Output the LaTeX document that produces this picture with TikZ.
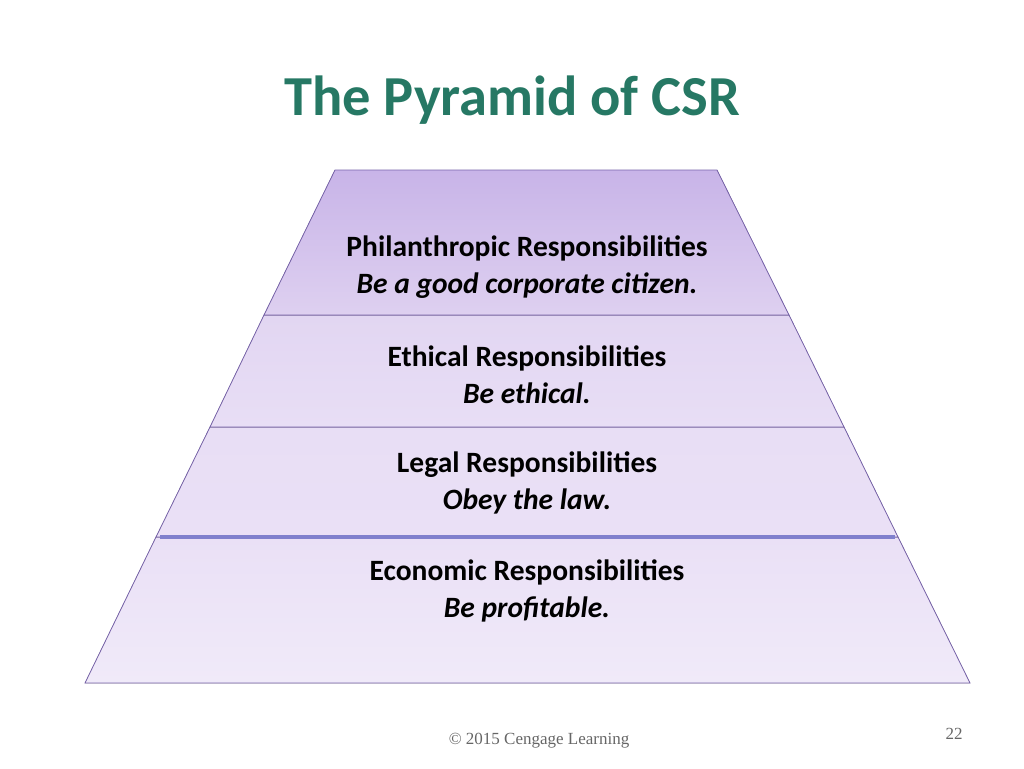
\documentclass[tikz,border=0pt]{standalone}
\usepackage{fontspec}
\setmainfont{Carlito}
\newfontfamily\serifcr{Liberation Serif}
\begin{document}
\definecolor{titlec}{RGB}{38,120,100}
\definecolor{edgec}{RGB}{120,100,170}
\definecolor{sepc}{RGB}{128,128,205}
\definecolor{c0}{RGB}{200,180,232}
\definecolor{c1}{RGB}{222,208,240}
\definecolor{c2}{RGB}{226,214,242}
\definecolor{c3}{RGB}{232,222,245}
\definecolor{c4}{RGB}{234,224,246}
\definecolor{c5}{RGB}{240,234,249}
\begin{tikzpicture}[x=1pt,y=-1pt,
  sec/.style={draw=edgec,line width=0.8pt},
  lbl/.style={align=center,font=\fontsize{29.5}{37}\selectfont\bfseries,text=black}]
\useasboundingbox (0,0) rectangle (1024,768);
\node (title) at (512,100) {\fontsize{56.5}{62}\selectfont\bfseries\color{titlec}The Pyramid of CSR};
\fill[top color=c4,bottom color=c5,sec] (156,537) -- (898,537) -- (970,683) -- (85,683) -- cycle;
\fill[top color=c3,bottom color=c4,sec] (210,427) -- (844,427) -- (898,537) -- (156,537) -- cycle;
\fill[top color=c2,bottom color=c3,sec] (264,315) -- (789,315) -- (844,427) -- (210,427) -- cycle;
\fill[top color=c0,bottom color=c1,sec] (335,170) -- (717,170) -- (789,315) -- (264,315) -- cycle;
\draw[line width=3.5pt,color=sepc] (160,537) -- (895,537);
\node[lbl] (p) at (527,267) {Philanthropic Responsibilities\\\itshape Be a good corporate citizen.};
\node[lbl] (e) at (527,375) {Ethical Responsibilities\\\itshape Be ethical.};
\node[lbl] (l) at (527,483) {Legal Responsibilities\\\itshape Obey the law.};
\node[lbl] (ec) at (527,591) {Economic Responsibilities\\\itshape Be profitable.};
\node (cr) at (539,741) {\serifcr\fontsize{17}{19}\selectfont\color{black!60}\textcopyright{} 2015 Cengage Learning};
\node (pg) at (954,734) {\serifcr\fontsize{17}{19}\selectfont\color{black!60}22};
\end{tikzpicture}
\end{document}
